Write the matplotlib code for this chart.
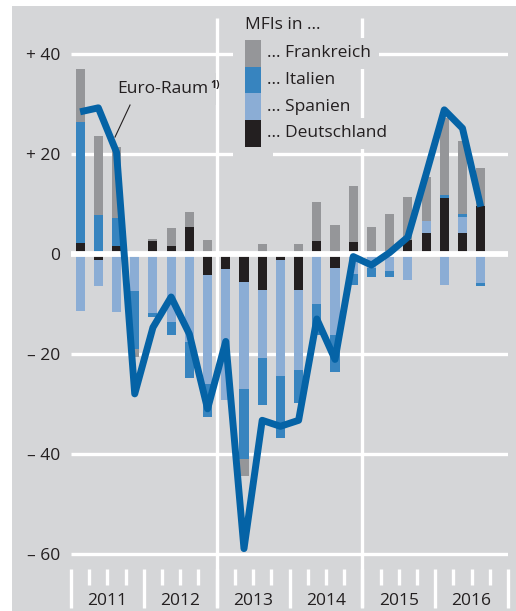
import matplotlib
matplotlib.use("Agg")
import matplotlib.pyplot as plt
from matplotlib.patches import Rectangle
import numpy as np

plt.rcParams["font.family"] = ["Open Sans", "DejaVu Sans"]

# quarterly contributions, 2011 Q1 .. 2016 Q3
years = ["2011", "2012", "2013", "2014", "2015", "2016"]
deutschland = [2.3, -1.2, 1.7, 0.0, 2.6, 1.6, 5.5, -4.1, -2.9, -5.5, -7.2, -1.2,
               -7.1, 2.6, -2.7, 2.5, 0.0, 0.0, 2.9, 4.3, 11.2, 4.3, 9.6]
spanien = [-11.4, -5.1, -11.6, -7.4, -11.8, -13.6, -17.6, -22.0, -26.4, -21.6, -13.6, -23.2,
           -16.1, -9.9, -13.5, -4.0, -2.8, -3.3, -5.1, 2.3, -6.1, 3.2, -5.7]
italien = [24.2, 7.8, 5.6, -11.7, -0.8, -2.6, -7.2, -6.5, 0.0, -13.9, -9.5, -12.5,
           -6.6, -6.3, -7.5, -2.2, -1.7, -1.2, 0.0, 0.0, 0.6, 0.5, -0.7]
frankreich = [10.6, 15.9, 14.2, -1.5, 0.5, 3.7, 2.9, 2.9, 0.0, -3.5, 2.1, 0.0,
              2.0, 7.8, 5.9, 11.2, 5.5, 8.0, 8.5, 8.9, 15.4, 14.7, 7.6]
euro_raum = [28.5, 29.3, 20.4, -28.0, -14.7, -8.6, -16.0, -31.0, -17.5, -59.0, -33.3, -34.5,
             -33.3, -13.0, -21.1, -0.5, -2.2, 0.3, 3.4, 16.0, 28.9, 25.2, 9.5]

labels = ["... Frankreich", "... Italien", "... Spanien", "... Deutschland"]
yticks = [40, 20, 0, -20, -40, -60]
yticklabels = ["+ 40", "+ 20", "0", "\u2013 20", "\u2013 40", "\u2013 60"]

BG = "#d5d6d8"
TXT = "#231f20"
C_FR, C_IT, C_ES, C_DE = "#959699", "#3784bf", "#8badd5", "#231f20"
C_LINE = "#0563a6"
FS = 12.5

W, H = 516, 611
fig = plt.figure(figsize=(W / 100, H / 100), dpi=100, facecolor="white")
fig.add_artist(Rectangle((12 / W, 0), 1, (H - 6) / H, transform=fig.transFigure,
                         facecolor=BG, edgecolor="none", zorder=-5))

ax = fig.add_axes([71 / W, 0, 437 / W, (H - 6) / H])
ax.set_facecolor("none")
for s in ax.spines.values():
    s.set_visible(False)
ax.set_xlim(0, 24)
ax.set_ylim(-71.5, 49.7)
ax.set_xticks([])
ax.set_yticks(yticks, yticklabels)
ax.tick_params(axis="y", length=0, pad=8, labelsize=FS, labelcolor=TXT)

# pixel helpers for layout only
def px(x):
    return (x - 71) / 18.2

def py(y):
    return (254 - y) / 4.99

# grid
ax.hlines([40, 20, -20, -40, -60], 0, 24, color="white", lw=2.4, zorder=1)
ax.vlines([8, 16], py(607), py(18), color="white", lw=2.4, zorder=1)
ax.axhline(0, color="white", lw=4.2, zorder=3)

# time axis ticks
q = np.arange(0, 25)
ax.vlines(q[q % 4 == 0], py(608), py(569), color="white", lw=2.4, clip_on=False, zorder=1)
ax.vlines(q[q % 4 != 0], py(585), py(569), color="white", lw=2.4, clip_on=False, zorder=1)
for i, yr in enumerate(years):
    ax.text(4 * i + 2, py(601), yr, ha="center", va="center", fontsize=FS, color=TXT)

# stacked bars
x = np.arange(len(euro_raum)) + 0.5
pos = np.zeros(len(x))
neg = np.zeros(len(x))
for vals, col in [(deutschland, C_DE), (spanien, C_ES), (italien, C_IT), (frankreich, C_FR)]:
    v = np.array(vals)
    ax.bar(x, v, width=0.5, bottom=np.where(v >= 0, pos, neg), color=col, lw=0, zorder=2)
    pos += np.clip(v, 0, None)
    neg += np.clip(v, None, 0)

ax.plot(x, euro_raum, color=C_LINE, lw=5, zorder=4, solid_capstyle="butt")

# Euro-Raum label
box = dict(boxstyle="square,pad=0.45", facecolor=BG, edgecolor="none")
t = ax.text(px(117), py(93), "Euro-Raum", fontsize=FS, color=TXT, ha="left",
            va="baseline", bbox=box, zorder=5)
ax.annotate("1)", xy=(1, 1), xycoords=t, xytext=(1.5, 0.5), textcoords="offset points",
            fontsize=7.5, fontweight="bold", color=TXT, ha="left", va="top", zorder=6)
ax.plot([px(130), px(115)], [py(105), py(137)], color=TXT, lw=0.8, zorder=6)

# legend
ax.add_patch(Rectangle((px(233), py(157)), px(273) - px(233), py(30) - py(157),
                       facecolor=BG, edgecolor="none", zorder=5))
ax.text(px(245), py(25), "MFIs in ...", fontsize=FS, color=TXT, ha="left", va="center",
        bbox=box, zorder=5)
for i, (lab, col) in enumerate(zip(labels, [C_FR, C_IT, C_ES, C_DE])):
    top = 40 + i * 26.7
    ax.add_patch(Rectangle((px(245), py(top + 26.7)), px(261) - px(245), py(top) - py(top + 26.7),
                           facecolor=col, edgecolor="none", zorder=6))
    ax.text(px(267), py(top + 13.3), lab, fontsize=FS, color=TXT, ha="left", va="center",
            bbox=box, zorder=5)

fig.savefig("out.png", dpi=100, facecolor="white")
